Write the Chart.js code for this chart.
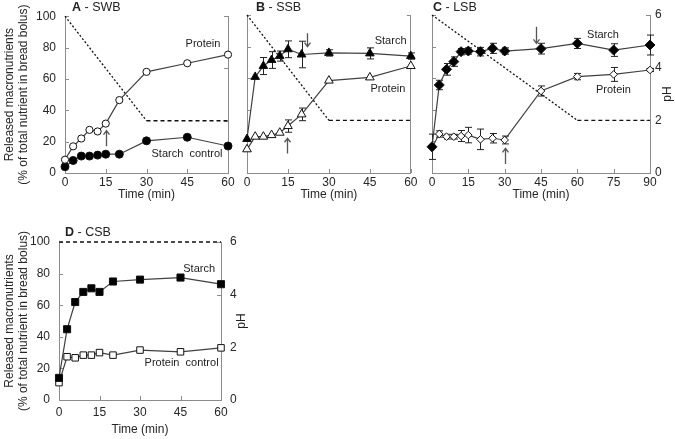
<!DOCTYPE html>
<html>
<head>
<meta charset="utf-8">
<script src="https://cdn.jsdelivr.net/npm/chart.js@4.4.1/dist/chart.umd.min.js"></script>
<style>
  body { margin: 0; background: #fff; }
  .panel { position: absolute; }
</style>
</head>
<body>
<div class="panel" style="left:0;top:0"><canvas id="cA" width="240" height="205"></canvas></div>
<div class="panel" style="left:240px;top:0"><canvas id="cB" width="180" height="205"></canvas></div>
<div class="panel" style="left:420px;top:0"><canvas id="cC" width="255" height="205"></canvas></div>
<div class="panel" style="left:0;top:220px"><canvas id="cD" width="260" height="219"></canvas></div>
<script>
// --- data (released %, pH) ---
const timeA = [0, 3, 6, 9, 12, 15, 20, 30, 45, 60];
const proteinA = [8.5, 17, 22, 27.5, 26.5, 31.5, 46.5, 64.5, 70, 75.5];
const starchA = [4, 8, 10.8, 10.8, 11.4, 12, 12, 20.5, 22.8, 17.2];

const timeB = [0, 3, 6, 9, 12, 15, 20, 30, 45, 60];
const starchB = [21.5, 60.8, 67.7, 71.5, 74, 78.3, 75, 76, 75.7, 74];
const starchBErr = [0, 0, 5.4, 5.3, 3.2, 5.3, 8.4, 2, 3.5, 2];
const proteinB = [15, 23, 23, 24, 25.5, 29.7, 37.1, 58.5, 60.5, 67.7];
const proteinBErr = [0, 0, 0, 0, 0, 3.9, 4, 0, 0, 0];

const timeC = [0, 3, 6, 9, 12, 15, 20, 25, 30, 45, 60, 75, 90];
const starchC = [16.6, 55.7, 65.6, 70.5, 76.8, 77.2, 76.8, 78.9, 77.2, 78.7, 82, 77.8, 81];
const starchCErr = [8, 3, 3.7, 3, 2, 2, 2.7, 3.2, 2, 3.4, 3.2, 4, 6.3];
const proteinC = [16, 24.7, 23, 23, 23.4, 24, 21.3, 22, 20.9, 51.9, 61, 62.4, 65.2];
const proteinCErr = [0, 2, 1.5, 1.5, 3.5, 4.9, 6.5, 3, 2.5, 3.2, 2, 4.4, 1];

const timeD = [0, 3, 6, 9, 12, 15, 20, 30, 45, 60];
const starchD = [14, 44.8, 62, 68.4, 70.7, 68.4, 75, 76.2, 77.5, 73.3];
const proteinD = [11, 27.4, 26.7, 28.4, 28.4, 30, 28.4, 31.6, 30.5, 33];

const phTimeA = [0, 30, 60], phA = [6, 2, 2];
const phTimeB = [0, 30, 60], phB = [6, 2, 2];
const phTimeC = [0, 60, 90], phC = [6, 2, 2];
const phTimeD = [0, 60], phD = [6, 6];

Chart.defaults.font.family = '"Liberation Sans", Arial, sans-serif';
Chart.defaults.font.size = 12;
Chart.defaults.color = '#262626';

const axisGray = '#8c8c8c';

// small tick marks pointing into the plot
const inwardTicks = {
  id: 'inwardTicks',
  beforeDatasetsDraw(chart) {
    const ctx = chart.ctx;
    ctx.save();
    ctx.strokeStyle = axisGray;
    ctx.lineWidth = 1;
    for (const id of ['x', 'y', 'y2']) {
      const s = chart.scales[id];
      const o = s.options;
      for (let v = o.min; v <= o.max + 1e-9; v += o.ticks.stepSize) {
        const p = Math.round(s.getPixelForValue(v)) + 0.5;
        ctx.beginPath();
        if (id === 'x') { ctx.moveTo(p, s.top); ctx.lineTo(p, s.top - 4); }
        else if (id === 'y') { ctx.moveTo(s.right, p); ctx.lineTo(s.right + 4, p); }
        else { ctx.moveTo(s.left, p); ctx.lineTo(s.left - 4, p); }
        ctx.stroke();
      }
    }
    ctx.restore();
  }
};

const errorBars = {
  id: 'errorBars',
  beforeDatasetsDraw(chart) {
    const ctx = chart.ctx;
    const xs = chart.scales.x, ys = chart.scales.y;
    ctx.save();
    ctx.strokeStyle = '#222';
    ctx.lineWidth = 1;
    chart.data.datasets.forEach(ds => {
      if (!ds.errors) return;
      ds.data.forEach((pt, j) => {
        const e = ds.errors[j];
        if (!e) return;
        const x = Math.round(xs.getPixelForValue(pt.x)) + 0.5;
        const y1 = ys.getPixelForValue(pt.y - e), y2 = ys.getPixelForValue(pt.y + e);
        ctx.beginPath();
        ctx.moveTo(x, y1); ctx.lineTo(x, y2);
        ctx.moveTo(x - 3.5, y1); ctx.lineTo(x + 3.5, y1);
        ctx.moveTo(x - 3.5, y2); ctx.lineTo(x + 3.5, y2);
        ctx.stroke();
      });
    });
    ctx.restore();
  }
};

// panel title, series labels, arrows, pH title
const notes = {
  id: 'notes',
  afterDatasetsDraw(chart, args, o) {
    const ctx = chart.ctx;
    const xs = chart.scales.x, ys = chart.scales.y;
    const fam = Chart.defaults.font.family;
    ctx.save();
    ctx.fillStyle = '#222';
    ctx.textBaseline = 'middle';
    // title
    ctx.font = 'bold 12.5px ' + fam;
    ctx.textAlign = 'left';
    ctx.fillText(o.title[0], o.titleX, o.titleY);
    const w = ctx.measureText(o.title[0]).width;
    ctx.font = '12.5px ' + fam;
    ctx.fillText(o.title[1], o.titleX + w, o.titleY);
    // series labels
    ctx.font = '11px ' + fam;
    ctx.textAlign = 'center';
    (o.labels || []).forEach(l => {
      ctx.fillText(l.text, xs.getPixelForValue(l.t), ys.getPixelForValue(l.v));
    });
    // arrows
    ctx.strokeStyle = '#555';
    ctx.lineWidth = 1.3;
    (o.arrows || []).forEach(a => {
      const x = Math.round(xs.getPixelForValue(a.t)) + 0.5;
      const y0 = ys.getPixelForValue(a.from), y1 = ys.getPixelForValue(a.to);
      const d = y1 > y0 ? 1 : -1;
      ctx.beginPath();
      ctx.moveTo(x, y0); ctx.lineTo(x, y1);
      ctx.moveTo(x - 3, y1 - d * 4); ctx.lineTo(x, y1); ctx.lineTo(x + 3, y1 - d * 4);
      ctx.stroke();
    });
    // pH axis title, reading bottom to top
    if (o.ph) {
      const r = chart.scales.y2;
      ctx.font = '12px ' + fam;
      ctx.translate(r.right - o.ph, (r.top + r.bottom) / 2);
      ctx.rotate(-Math.PI / 2);
      ctx.fillText('pH', 0, 0);
    }
    ctx.restore();
  }
};

function series(t, v, style, r, fill, err) {
  return {
    data: t.map((x, i) => ({ x: x, y: v[i] })),
    errors: err,
    yAxisID: 'y',
    borderColor: '#404040',
    borderWidth: 1.2,
    pointStyle: style,
    pointRadius: r,
    pointHoverRadius: r,
    pointBackgroundColor: fill,
    pointBorderColor: '#111',
    pointBorderWidth: 1,
    tension: 0,
    clip: false
  };
}

function phLine(t, v, dotted) {
  return {
    data: t.map((x, i) => ({ x: x, y: v[i] })),
    yAxisID: 'y2',
    borderColor: '#111',
    borderWidth: 1.3,
    pointRadius: 0,
    tension: 0,
    clip: false,
    segment: { borderDash: c => (dotted && c.p0DataIndex === 0) ? [2, 2] : [4, 3] }
  };
}

function panel(id, p) {
  const ytitle = {
    display: p.yTitle,
    text: ['Released macronutrients', '(% of total nutrient in bread bolus)'],
    font: { size: 12, lineHeight: 1.1 },
    padding: { top: 3.4, bottom: 0 }
  };
  return new Chart(document.getElementById(id), {
    type: 'line',
    data: { datasets: p.datasets },
    options: {
      responsive: false,
      animation: false,
      events: [],
      layout: { padding: { top: p.top, left: 0, right: 0, bottom: 0 } },
      plugins: { legend: { display: false }, tooltip: { enabled: false }, notes: p.notes },
      scales: {
        x: {
          type: 'linear', min: 0, max: p.xMax,
          ticks: { stepSize: 15, padding: p.xPad },
          grid: { display: false, drawTicks: false },
          border: { color: axisGray },
          title: { display: true, text: 'Time (min)', font: { size: 12 }, padding: { top: 0, bottom: p.xTitlePad } },
          afterFit: s => { s.height = p.xH; }
        },
        y: {
          min: 0, max: 100,
          ticks: { stepSize: 20, display: p.leftLabels, padding: p.yPad },
          grid: { display: false, drawTicks: false },
          border: { color: axisGray },
          title: ytitle,
          afterFit: s => { s.width = p.yW; }
        },
        y2: {
          position: 'right', min: 0, max: 6,
          ticks: { stepSize: 2, display: p.rightLabels, padding: p.y2Pad },
          grid: { display: false, drawTicks: false },
          border: { color: axisGray },
          afterFit: s => { s.width = p.y2W; }
        }
      }
    },
    plugins: [inwardTicks, errorBars, notes]
  });
}

panel('cA', {
  datasets: [
    series(timeA, proteinA, 'circle', 3.6, '#fff'),
    series(timeA, starchA, 'circle', 4, '#000'),
    phLine(phTimeA, phA, true)
  ],
  xMax: 60, top: 15, xH: 32, xPad: 2.5, xTitlePad: 3.5,
  yW: 65, y2W: 12, yPad: 9, leftLabels: true, rightLabels: false, yTitle: true,
  notes: {
    title: ['A', ' - SWB'], titleX: 72, titleY: 8,
    labels: [{ text: 'Protein', t: 50.8, v: 82 }, { text: 'Starch  control', t: 44.9, v: 12 }],
    arrows: [{ t: 15, from: 17, to: 27 }]
  }
});

panel('cB', {
  datasets: [
    series(timeB, starchB, 'triangle', 5, '#000', starchBErr),
    series(timeB, proteinB, 'triangle', 5, '#fff', proteinBErr),
    phLine(phTimeB, phB, true)
  ],
  xMax: 60, top: 15, xH: 32, xPad: 2.5, xTitlePad: 3.5,
  yW: 7, y2W: 9, yPad: 8, leftLabels: false, rightLabels: false, yTitle: false,
  notes: {
    title: ['B', ' - SSB'], titleX: 16, titleY: 8,
    labels: [{ text: 'Starch', t: 52.6, v: 83.5 }, { text: 'Protein', t: 51.6, v: 53 }],
    arrows: [{ t: 22, from: 88.4, to: 80 }, { t: 14.8, from: 12.4, to: 22 }]
  }
});

panel('cC', {
  datasets: [
    series(timeC, starchC, 'rectRot', 5, '#000', starchCErr),
    series(timeC, proteinC, 'rectRot', 3.8, '#fff', proteinCErr),
    phLine(phTimeC, phC, true)
  ],
  xMax: 90, top: 15, xH: 32, xPad: 2.5, xTitlePad: 3.5,
  yW: 12, y2W: 25, yPad: 8, y2Pad: 5, leftLabels: false, rightLabels: true, yTitle: false,
  notes: {
    title: ['C', ' - LSB'], titleX: 13, titleY: 8,
    labels: [{ text: 'Starch', t: 70.6, v: 87.3 }, { text: 'Protein', t: 74.9, v: 52.5 }],
    arrows: [{ t: 43, from: 92.6, to: 82 }, { t: 30.2, from: 5.7, to: 15.6 }],
    ph: 7.5
  }
});

panel('cD', {
  datasets: [
    series(timeD, starchD, 'rect', 5, '#000'),
    series(timeD, proteinD, 'rect', 4.6, '#fff'),
    phLine(phTimeD, phD, false)
  ],
  xMax: 60, top: 22, xH: 39, xPad: 5.5, xTitlePad: 1.8,
  yW: 59, y2W: 39, yPad: 9, y2Pad: 9, leftLabels: true, rightLabels: true, yTitle: true,
  notes: {
    title: ['D', ' - CSB'], titleX: 65, titleY: 13,
    labels: [{ text: 'Starch', t: 51.9, v: 82.9 }, { text: 'Protein  control', t: 45.4, v: 23.6 }],
    ph: 18.3
  }
});
</script>
</body>
</html>
